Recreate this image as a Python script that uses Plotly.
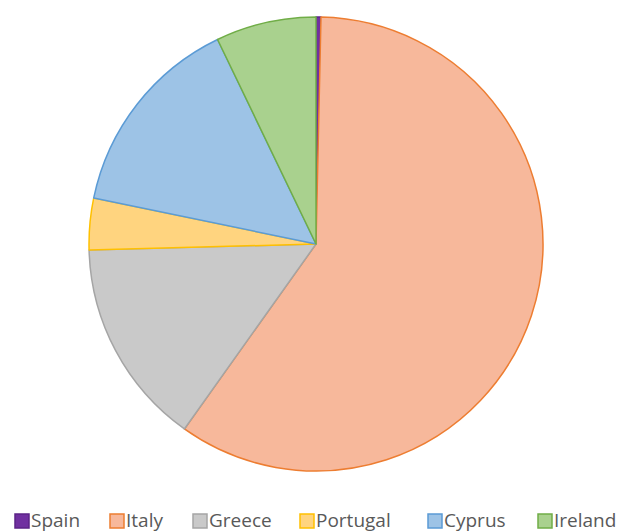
import plotly.graph_objects as go

# Share of total by country
countries = ["Spain", "Italy", "Greece", "Portugal", "Cyprus", "Ireland"]
shares = [0.35, 59.50, 14.74, 3.67, 14.61, 7.14]

# Slice fill and outline colours
fill_colors = ["#7030A0", "#F7B89B", "#C9C9C9", "#FFD47F", "#9DC3E6", "#A9D18E"]
line_colors = ["#5B2387", "#ED7D31", "#A5A5A5", "#FFC000", "#5B9BD5", "#70AD47"]

W, H = 629, 532
cx, cy, r = 316, 244, 227

fig = go.Figure(
    go.Pie(
        labels=countries,
        values=shares,
        sort=False,
        direction="clockwise",
        rotation=0,
        textinfo="none",
        hoverinfo="label+percent",
        marker=dict(colors=fill_colors, line=dict(color=line_colors, width=1.5)),
        domain=dict(
            x=[(cx - r) / W, (cx + r) / W],
            y=[1 - (cy + r) / H, 1 - (cy - r) / H],
        ),
        showlegend=False,
    )
)

# Legend row drawn beneath the pie
legend_x = [15, 110, 193, 300, 428, 538]
legend_y = 520
box = 14
shapes = []
annotations = []
for name, fc, lc, x0 in zip(countries, fill_colors, line_colors, legend_x):
    shapes.append(
        dict(
            type="rect",
            xref="paper",
            yref="paper",
            x0=x0 / W,
            x1=(x0 + box) / W,
            y0=1 - (legend_y + 1 + box / 2) / H,
            y1=1 - (legend_y + 1 - box / 2) / H,
            fillcolor=fc,
            line=dict(color=lc, width=1.5),
        )
    )
    annotations.append(
        dict(
            text=name,
            xref="paper",
            yref="paper",
            x=(x0 + box + 1) / W,
            y=1 - legend_y / H,
            xanchor="left",
            yanchor="middle",
            showarrow=False,
            borderpad=0,
            font=dict(family="Open Sans", size=19, color="#595959"),
        )
    )

fig.update_layout(
    width=W,
    height=H,
    margin=dict(l=0, r=0, t=0, b=0),
    paper_bgcolor="white",
    plot_bgcolor="white",
    shapes=shapes,
    annotations=annotations,
)

fig.write_html("out.html")
